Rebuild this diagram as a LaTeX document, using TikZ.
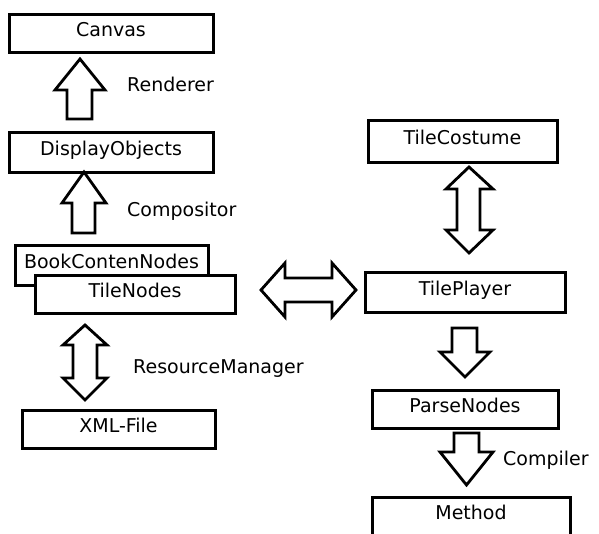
\documentclass[tikz,border=0pt]{standalone}
\usepackage{fontspec}
\setmainfont{DejaVu Sans}
\begin{document}
\begin{tikzpicture}[x=1pt,y=-1pt,
  box/.style={draw, line width=3pt, fill=white, inner sep=0pt, text height=14pt, text depth=8pt},
  lbl/.style={anchor=west, inner sep=0pt, text height=14pt, text depth=0pt},
  fat/.style={draw, line width=2.8pt, miter limit=10, line join=miter, fill=white}]
\useasboundingbox (0,0) rectangle (599,533);
\fontsize{19}{23}\selectfont
% boxes
\node[box, minimum width=204pt, minimum height=38pt] (canvas) at (111,33) {Canvas};
\node[box, minimum width=204pt, minimum height=40pt] (disp) at (111,152) {DisplayObjects};
\node[box, minimum width=193pt, minimum height=40pt] (book) at (111.5,265) {BookContenNodes};
\node[box, minimum width=200pt, minimum height=38pt] (tile) at (135,294) {TileNodes};
\node[box, minimum width=193pt, minimum height=38pt] (xml) at (118.5,429) {XML-File};
\node[box, minimum width=189pt, minimum height=42pt] (cost) at (462.5,141) {TileCostume};
\node[box, minimum width=200pt, minimum height=40pt] (player) at (465,292) {TilePlayer};
\node[box, minimum width=186pt, minimum height=38pt] (parse) at (465,409) {ParseNodes};
\node[box, minimum width=198pt, minimum height=38pt] (method) at (471,516) {Method};
% labels
\node[lbl] (renderer) at (127,84) {Renderer};
\node[lbl] (compositor) at (127,209) {Compositor};
\node[lbl] (resman) at (133,366.5) {ResourceManager};
\node[lbl] (compiler) at (503,458) {Compiler};
% Renderer up arrow
\draw[fat] (67,119) -- (67,90) -- (55,90) -- (80,59) -- (105,90) -- (92,90) -- (92,119) -- cycle;
% Compositor up arrow
\draw[fat] (72,233) -- (72,203) -- (62,203) -- (84,172) -- (106,203) -- (95,203) -- (95,233) -- cycle;
% ResourceManager double arrow
\draw[fat] (85,325) -- (107,345) -- (97,345) -- (97,378) -- (107,378) -- (85,400) -- (63,378) -- (73,378) -- (73,345) -- (63,345) -- cycle;
% horizontal double arrow
\draw[fat] (261,290) -- (285,263) -- (285,278) -- (332,278) -- (332,263) -- (356,290) -- (332,317) -- (332,302) -- (285,302) -- (285,317) -- cycle;
% TileCostume double arrow
\draw[fat] (469,167) -- (493,189) -- (480,189) -- (480,230) -- (493,230) -- (469,253) -- (446,230) -- (457,230) -- (457,189) -- (446,189) -- cycle;
% TilePlayer down arrow
\draw[fat] (452,328) -- (477,328) -- (477,352) -- (490,352) -- (465,377) -- (440,352) -- (452,352) -- cycle;
% Compiler down arrow
\draw[fat] (454,433) -- (479,433) -- (479,452) -- (493,452) -- (466.5,485) -- (440,452) -- (454,452) -- cycle;
\end{tikzpicture}
\end{document}
